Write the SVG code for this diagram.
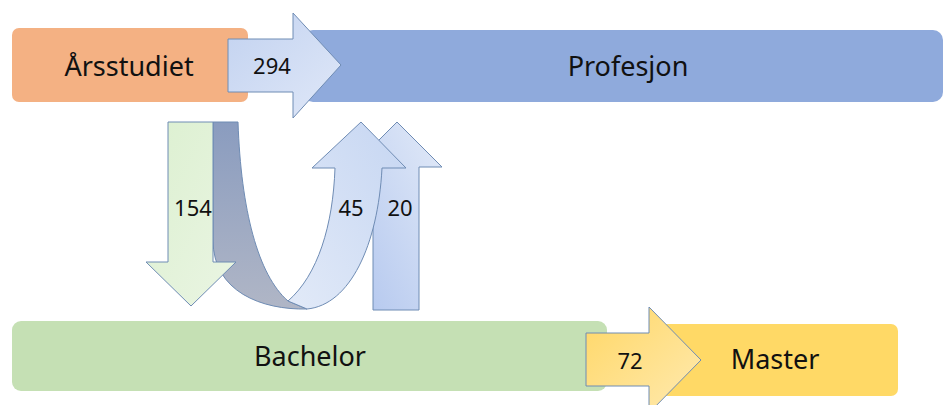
<svg xmlns="http://www.w3.org/2000/svg" width="945" height="405" viewBox="0 0 945 405">
<style>
.lbl{font-family:"Noto Sans","Open Sans",sans-serif;font-size:27px;fill:#111;text-anchor:middle}
.num{font-family:"Noto Sans","Open Sans",sans-serif;font-size:22px;fill:#111;text-anchor:middle}
.arw{stroke:#6f8cb4;stroke-width:1;stroke-linejoin:miter}
</style>
<defs>
<linearGradient id="gBlue" x1="0" y1="0" x2="1" y2="1">
<stop offset="0" stop-color="#c2d2f0"/><stop offset="1" stop-color="#e0e8f8"/>
</linearGradient>
<linearGradient id="gBlue2" x1="1" y1="0" x2="0" y2="1">
<stop offset="0" stop-color="#e2eaf8"/><stop offset="1" stop-color="#b2c6ee"/>
</linearGradient>
<linearGradient id="gYel" x1="0" y1="0" x2="1" y2="1">
<stop offset="0" stop-color="#ffd766"/><stop offset="1" stop-color="#ffeab0"/>
</linearGradient>
<linearGradient id="gGreen" x1="0" y1="0" x2="1" y2="1">
<stop offset="0" stop-color="#dcf0d0"/><stop offset="1" stop-color="#eaf5e3"/>
</linearGradient>
<linearGradient id="gDark" x1="0" y1="0" x2="0" y2="1">
<stop offset="0" stop-color="#8a9cbf"/><stop offset="1" stop-color="#b0b6c6"/>
</linearGradient>
<linearGradient id="gLight" x1="1" y1="0" x2="0" y2="1">
<stop offset="0" stop-color="#c6d6f2"/><stop offset="1" stop-color="#e2eaf8"/>
</linearGradient>
</defs>

<g id="profesjon">
<rect x="303" y="30" width="640" height="72" rx="10" fill="#8faadc"/>
<text class="lbl" x="628" y="76">Profesjon</text>
</g>
<g id="arsstudiet">
<rect x="12" y="28" width="236" height="74" rx="7" fill="#f4b183"/>
<text class="lbl" x="129" y="76">Årsstudiet</text>
</g>
<g id="bachelor">
<rect x="12" y="321" width="595" height="70" rx="9" fill="#c5e0b4"/>
<text class="lbl" x="310" y="366">Bachelor</text>
</g>
<g id="master">
<rect x="660" y="324" width="238" height="72" rx="7" fill="#ffd966"/>
<text class="lbl" x="775" y="369">Master</text>
</g>

<g id="connectors">
<g id="a294">
<path class="arw" fill="url(#gBlue)" d="M228,39 L293,39 L293,13 L341,65 L293,118 L293,92 L228,92 Z"/>
<text class="num" x="272" y="74">294</text>
</g>
<g id="a72">
<path class="arw" fill="url(#gYel)" d="M586,333 L649,333 L649,307 L701,360 L649,413 L649,386 L586,386 Z"/>
<text class="num" x="630" y="369">72</text>
</g>
<g id="a20">
<path class="arw" fill="url(#gBlue2)" d="M373,310 L373,167 L352,167 L397,122 L442,167 L419,167 L419,310 Z"/>
<text class="num" x="400" y="216">20</text>
</g>
<g id="a45">
<path class="arw" fill="url(#gDark)" d="M213,122 L238,122 C241,210 258,275 288,301 L307,309 C262,310 213,292 213,240 Z"/>
<path class="arw" fill="url(#gLight)" d="M288,301 C318,275 333,225 335,168 L312,168 L361,122 L406,168 L382,168 C378,245 350,305 307,309 Z"/>
<text class="num" x="351" y="216">45</text>
</g>
<g id="a154">
<path class="arw" fill="url(#gGreen)" d="M168,122 L213,122 L213,262 L236,262 L191,306 L146,262 L168,262 Z"/>
<text class="num" x="193" y="216">154</text>
</g>
</g>
</svg>
